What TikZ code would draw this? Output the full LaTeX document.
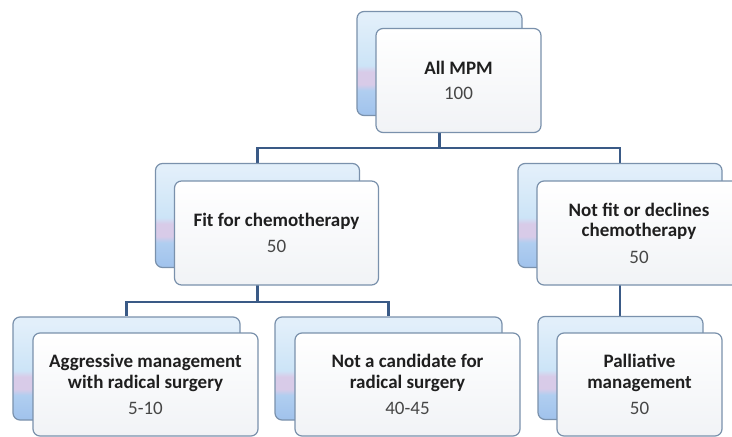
\documentclass[tikz,border=0pt]{standalone}
\usepackage{fontspec}
\setmainfont{Carlito}
\usetikzlibrary{backgrounds}

\definecolor{linkblue}{RGB}{58,90,134}
\definecolor{cardedge}{RGB}{122,145,172}
\definecolor{shadeT}{RGB}{226,239,250}
\definecolor{shadeA}{RGB}{204,228,247}
\definecolor{shadeL}{RGB}{216,203,232}
\definecolor{shadeB}{RGB}{176,206,240}
\definecolor{shadeC}{RGB}{160,194,236}
\definecolor{frontlow}{RGB}{241,243,246}
\definecolor{numgray}{RGB}{70,70,70}

\pgfdeclareverticalshading{backshade}{100bp}{color(0bp)=(shadeC); color(25bp)=(shadeC); color(37bp)=(shadeB); color(40bp)=(shadeL); color(46bp)=(shadeL); color(49bp)=(shadeA); color(72bp)=(shadeT); color(100bp)=(shadeT)}

\begin{document}
\begin{tikzpicture}[x=1pt,y=-1pt,
  backcard/.style={draw=cardedge, line width=1.2pt, rounded corners=7pt,
    shading=backshade, inner sep=0pt},
  frontcard/.style={draw=cardedge, line width=1.2pt, rounded corners=7pt,
    top color=white, bottom color=frontlow, align=center, inner sep=0pt,
    font=\fontsize{19}{20.5}\selectfont, text=black!88},
  link/.style={draw=linkblue, line width=2.4pt}]

\useasboundingbox (0,0) rectangle (732,437);

% Top: all cases
\node[backcard, minimum width=165, minimum height=104] (allB) at (439.5,63.5) {};
\node[frontcard, minimum width=165, minimum height=104] (all) at (458.5,80.5)
  {\textbf{All MPM}\\[5pt]\textcolor{numgray}{100}};

% Middle row
\node[backcard, minimum width=204, minimum height=104] (fitB) at (257.5,215.5) {};
\node[frontcard, minimum width=204, minimum height=104] (fit) at (276.5,233)
  {\textbf{Fit for chemotherapy}\\[6pt]\textcolor{numgray}{50}};

\node[backcard, minimum width=204, minimum height=104] (notfitB) at (620,215.5) {};
\node[frontcard, minimum width=204, minimum height=104] (notfit) at (639,233)
  {\textbf{Not fit or declines}\\\textbf{chemotherapy}\\[6pt]\textcolor{numgray}{50}};

% Bottom row
\node[backcard, minimum width=227, minimum height=103] (aggB) at (126.5,368.5) {};
\node[frontcard, minimum width=225, minimum height=103] (agg) at (145.5,384.5)
  {\textbf{Aggressive management}\\\textbf{with radical surgery}\\[6pt]\textcolor{numgray}{5-10}};

\node[backcard, minimum width=227, minimum height=103] (candB) at (388.5,368.5) {};
\node[frontcard, minimum width=225, minimum height=103] (cand) at (407.5,384.5)
  {\textbf{Not a candidate for}\\\textbf{radical surgery}\\[6pt]\textcolor{numgray}{40-45}};

\node[backcard, minimum width=165, minimum height=103] (palB) at (620.5,368) {};
\node[frontcard, minimum width=165, minimum height=103] (pal) at (639.5,384.5)
  {\textbf{Palliative}\\\textbf{management}\\[6pt]\textcolor{numgray}{50}};

% Connectors behind the cards
\begin{pgfonlayer}{background}
\fill[white] (0,0) rectangle (732,437);
\coordinate (topbus) at (0,148);
\coordinate (lowbus) at (0,302);
\draw[link] (allB) -- (allB |- topbus);
\draw[link] (fitB.north) -- (fitB.north |- topbus) -- (notfitB.north |- topbus) -- (notfitB.north);
\draw[link] (fitB) -- (fitB |- lowbus);
\draw[link] (aggB.north) -- (aggB.north |- lowbus) -- (candB.north |- lowbus) -- (candB.north);
\draw[link] (notfitB) -- (notfitB |- palB.north);
\end{pgfonlayer}

\end{tikzpicture}
\end{document}
